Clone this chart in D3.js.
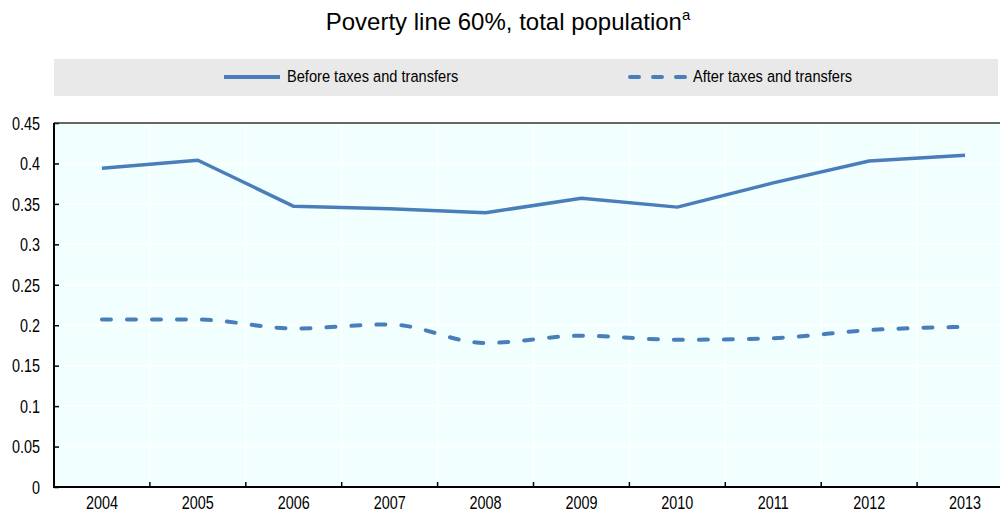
<!DOCTYPE html>
<html>
<head>
<meta charset="utf-8">
<script src="https://cdn.jsdelivr.net/npm/d3@7"></script>
<style>
  html, body { margin: 0; padding: 0; background: #ffffff; }
  svg { display: block; }
</style>
</head>
<body>
<svg id="chart" width="1000" height="513"></svg>
<script>
// ---- data ----
const years = ["2004","2005","2006","2007","2008","2009","2010","2011","2012","2013"];
const beforeTaxes = [0.394, 0.404, 0.347, 0.344, 0.339, 0.357, 0.346, 0.376, 0.403, 0.410];
const afterTaxes  = [0.207, 0.207, 0.196, 0.201, 0.178, 0.187, 0.182, 0.184, 0.194, 0.198];
const yTicks = [0, 0.05, 0.1, 0.15, 0.2, 0.25, 0.3, 0.35, 0.4, 0.45];
const seriesNames = ["Before taxes and transfers", "After taxes and transfers"];
const titleText = "Poverty line 60%, total population";
const titleSup = "a";

// ---- layout ----
const W = 1000, H = 513;
const plot = { left: 54, top: 123, right: 1013, bottom: 487 };
const lineColor = "#4a7ebb";
const font = "'Liberation Sans', Arial, sans-serif";
const squeeze = 0.8; // mimic a narrow face

const svg = d3.select("#chart");

const x = d3.scaleBand().domain(years).range([plot.left, plot.right]).padding(0);
const y = d3.scaleLinear().domain([0, 0.45]).range([plot.bottom, plot.top]);

// title
const title = svg.append("text")
  .attr("x", 508).attr("y", 30)
  .attr("text-anchor", "middle")
  .style("font-family", font).style("font-size", "24px").style("fill", "#000");
title.append("tspan").text(titleText);
title.append("tspan").attr("dy", -10).style("font-size", "15px").text(titleSup);

// legend band
svg.append("rect").attr("x", 54).attr("y", 59).attr("width", 944).attr("height", 37).attr("fill", "#e9e9e9");
const legendItems = [
  { name: seriesNames[0], x0: 222, dash: null },
  { name: seriesNames[1], x0: 628, dash: "9,14" }
];
legendItems.forEach(d => {
  svg.append("line")
    .attr("x1", d.x0 + 2).attr("x2", d.x0 + 58).attr("y1", 77).attr("y2", 77)
    .attr("stroke", lineColor).attr("stroke-width", 4)
    .attr("stroke-linecap", d.dash ? "round" : "butt")
    .attr("stroke-dasharray", d.dash);
  svg.append("text")
    .attr("transform", `translate(${d.x0 + 65},82) scale(0.86,1)`)
    .style("font-family", font).style("font-size", "17px").style("fill", "#000")
    .text(d.name);
});

// plot background
svg.append("rect").attr("x", plot.left).attr("y", plot.top)
  .attr("width", plot.right - plot.left).attr("height", plot.bottom - plot.top)
  .attr("fill", "#f2ffff");

// gridlines
svg.append("g").selectAll("line").data(yTicks).join("line")
  .attr("x1", plot.left).attr("x2", plot.right)
  .attr("y1", d => y(d)).attr("y2", d => y(d))
  .attr("stroke", "#ffffff").attr("stroke-width", 1.5);
const bounds = years.slice(1).map(d => x(d));
svg.append("g").selectAll("line").data(bounds).join("line")
  .attr("x1", d => d).attr("x2", d => d)
  .attr("y1", plot.top).attr("y2", plot.bottom)
  .attr("stroke", "#ffffff").attr("stroke-width", 1.5);

// y axis
const yAxis = d3.axisLeft(y).tickValues(yTicks).tickSize(-5)
  .tickFormat(d => d === 0 ? "0" : String(+d.toFixed(2)));
const gy = svg.append("g").attr("transform", `translate(${plot.left},0)`).call(yAxis);
gy.select(".domain").remove();
gy.selectAll(".tick line").attr("stroke", "#000").attr("stroke-width", 1.5);
gy.selectAll(".tick text")
  .attr("x", 0).attr("dy", "0.35em")
  .attr("transform", `translate(-14,0) scale(${squeeze},1)`)
  .style("font-family", font).style("font-size", "18px").style("fill", "#000");

// x axis
const xAxis = d3.axisBottom(x).tickSize(0).tickPadding(9);
const gx = svg.append("g").attr("transform", `translate(0,${plot.bottom})`).call(xAxis);
gx.select(".domain").remove();
gx.selectAll(".tick text")
  .attr("transform", `scale(${squeeze},1)`)
  .style("font-family", font).style("font-size", "18px").style("fill", "#000");
svg.append("g").selectAll("line").data(bounds).join("line")
  .attr("x1", d => d).attr("x2", d => d)
  .attr("y1", plot.bottom).attr("y2", plot.bottom - 5)
  .attr("stroke", "#000").attr("stroke-width", 1.5);

// frame lines
svg.append("line").attr("x1", plot.left).attr("x2", plot.right)
  .attr("y1", plot.top).attr("y2", plot.top).attr("stroke", "#333").attr("stroke-width", 1.5);
svg.append("line").attr("x1", plot.left).attr("x2", plot.left)
  .attr("y1", plot.top).attr("y2", plot.bottom + 1).attr("stroke", "#000").attr("stroke-width", 2);
svg.append("line").attr("x1", plot.left - 1).attr("x2", plot.right)
  .attr("y1", plot.bottom).attr("y2", plot.bottom).attr("stroke", "#000").attr("stroke-width", 2);

// series
const cx = d => x(d) + x.bandwidth() / 2;
const solid = d3.line().x((d, i) => cx(years[i])).y(d => y(d));
const smooth = d3.line().x((d, i) => cx(years[i])).y(d => y(d)).curve(d3.curveMonotoneX);
svg.append("path").datum(beforeTaxes).attr("d", solid)
  .attr("fill", "none").attr("stroke", lineColor).attr("stroke-width", 3.5)
  .attr("stroke-linejoin", "round");
svg.append("path").datum(afterTaxes).attr("d", smooth)
  .attr("fill", "none").attr("stroke", lineColor).attr("stroke-width", 4)
  .attr("stroke-linecap", "round").attr("stroke-dasharray", "9,16");
</script>
</body>
</html>
